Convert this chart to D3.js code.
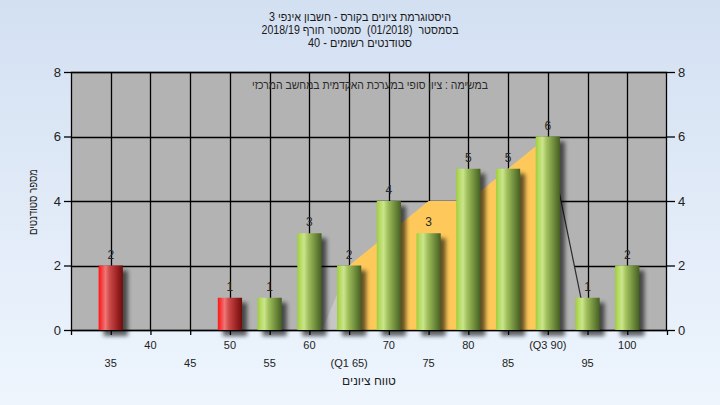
<!DOCTYPE html>
<html><head><meta charset="utf-8">
<script src="https://cdn.jsdelivr.net/npm/d3@7"></script>
<style>
html,body{margin:0;padding:0;}
body{width:720px;height:405px;overflow:hidden;}
text{font-family:"Liberation Sans",Arial,sans-serif;white-space:pre;}
</style></head>
<body><svg id="c" width="720" height="405"></svg>
<script>
// ---- data ----
const grades = [35, 40, 45, 50, 55, 60, 65, 70, 75, 80, 85, 90, 95, 100];
const counts = [2, 0, 0, 1, 1, 3, 2, 4, 3, 5, 5, 6, 1, 2];
const tickLabels = ["35","40","45","50","55","60","(Q1 65)","70","75","80","85","(Q3 90)","95","100"];
const yTicks = [0, 2, 4, 6, 8];
const passGrade = 55;
// shape behind bars (grade, count)
const areaGrades = [61.6, 65, 75, 80, 90, 95];
const areaCounts = [0, 2, 4, 4, 6, 0];
const q1 = 65, q3 = 90;
const titleLines = ["היסטוגרמת ציונים בקורס - חשבון אינפי 3",
                    "בסמסטר  (01/2018)  סמסטר חורף 2018/19",
                    "סטודנטים רשומים - 40"];
const subTitle = "במשימה : ציון סופי במערכת האקדמית במחשב המרכזי";
const xTitle = "טווח ציונים";
const yTitle = "מספר סטודנטים";

// ---- layout ----
const W = 720, H = 405;
const L = 71, R = 667, T = 72, B = 330;
const svg = d3.select("#c");
const defs = svg.append("defs");

const bg = defs.append("linearGradient").attr("id","bg").attr("x1",0).attr("y1",0).attr("x2",0).attr("y2",1);
bg.append("stop").attr("offset","0%").attr("stop-color","#d3e0f2");
bg.append("stop").attr("offset","100%").attr("stop-color","#eef5fd");

function barGrad(id, stops){
  const g = defs.append("linearGradient").attr("id",id).attr("x1",0).attr("y1",0).attr("x2",1).attr("y2",0);
  stops.forEach(s=>g.append("stop").attr("offset",s[0]).attr("stop-color",s[1]));
}
barGrad("gGreen", [["0%","#9fcd3e"],["12%","#b4da5e"],["28%","#cbe58e"],["45%","#a2c15c"],["75%","#6e8c3c"],["100%","#465f22"]]);
barGrad("gRed", [["0%","#ff1414"],["12%","#f53c3c"],["28%","#ef7777"],["45%","#cc4a4a"],["75%","#a02424"],["100%","#6e0c0c"]]);

const blur = defs.append("filter").attr("id","blur").attr("x","-50%").attr("y","-50%").attr("width","200%").attr("height","200%");
blur.append("feGaussianBlur").attr("stdDeviation",2);

svg.append("rect").attr("width",W).attr("height",H).attr("fill","url(#bg)");

const x = d3.scaleLinear().domain([30,105]).range([L,R]);
const y = d3.scaleLinear().domain([0,8]).range([B,T]);
const step = x(35) - x(30);
const bw = step * 0.61;

// plot background
svg.append("rect").attr("x",L).attr("y",T).attr("width",R-L).attr("height",B-T).attr("fill","#b3b3b3");

// grid
const grid = svg.append("g").attr("stroke","#000").attr("stroke-width",1.3);
yTicks.forEach(v=>grid.append("line").attr("x1",L).attr("x2",R).attr("y1",Math.round(y(v))+0.5).attr("y2",Math.round(y(v))+0.5));
grades.forEach(g=>grid.append("line").attr("y1",T).attr("y2",B).attr("x1",Math.round(x(g))+0.5).attr("x2",Math.round(x(g))+0.5));

// area shape
const pts = areaGrades.map((g,i)=>({g, c: areaCounts[i]}));
const leftPts = pts.filter(p=>p.g<=q1);
const midPts = pts.filter(p=>p.g>=q1 && p.g<=q3);
const rightPts = pts.filter(p=>p.g>=q3);
const area = d3.area().x(d=>x(d.g)).y0(y(0)).y1(d=>y(d.c));
svg.append("path").datum(leftPts).attr("d",area).attr("fill","#c6c6c6");
svg.append("path").datum(midPts).attr("d",area).attr("fill","#fec95a");
svg.append("path").datum(rightPts).attr("d",area).attr("fill","#b3b3b3");
svg.append("path").datum(rightPts).attr("d",d3.line().x(d=>x(d.g)).y(d=>y(d.c))).attr("fill","none").attr("stroke","#2a2a2a").attr("stroke-width",1.2);

// frame
svg.append("rect").attr("x",L+0.5).attr("y",T+0.5).attr("width",R-L-1).attr("height",B-T).attr("fill","none").attr("stroke","#000").attr("stroke-width",1.3);

// bars
const data = grades.map((g,i)=>({g, c: counts[i]})).filter(d=>d.c>0);
svg.append("g").selectAll("rect").data(data).join("rect")
  .attr("x",d=>x(d.g)-bw/2+5).attr("y",d=>y(d.c)+5)
  .attr("width",bw).attr("height",d=>y(0)-y(d.c)+1)
  .attr("fill","#000").attr("opacity",0.6).attr("filter","url(#blur)");
svg.append("g").selectAll("rect").data(data).join("rect")
  .attr("x",d=>x(d.g)-bw/2).attr("y",d=>y(d.c))
  .attr("width",bw).attr("height",d=>y(0)-y(d.c))
  .attr("fill",d=>d.g<passGrade?"url(#gRed)":"url(#gGreen)");
svg.append("g").selectAll("text").data(data).join("text")
  .attr("x",d=>x(d.g)).attr("y",d=>y(d.c)-7)
  .attr("text-anchor","middle").attr("font-size",12).attr("fill","#2a2a2a")
  .text(d=>d.c);

// axes
const yl = d3.axisLeft(y).tickValues(yTicks).tickSize(7).tickPadding(3);
const gl = svg.append("g").attr("transform",`translate(${L},0)`).call(yl);
const yr = d3.axisRight(y).tickValues(yTicks).tickSize(8).tickPadding(3);
const gr = svg.append("g").attr("transform",`translate(${R},0)`).call(yr);
[gl,gr].forEach(g=>{
  g.select(".domain").remove();
  g.selectAll("line").attr("stroke","#000").attr("stroke-width",1.3);
  g.selectAll("text").attr("font-size",13).attr("fill","#222").attr("font-family","Liberation Sans, Arial, sans-serif");
});
const xb = d3.axisBottom(x).tickValues(d3.range(30,106,5)).tickSize(5).tickFormat("");
const gb = svg.append("g").attr("transform",`translate(0,${B})`).call(xb);
gb.select(".domain").remove();
gb.selectAll("line").attr("stroke","#000").attr("stroke-width",1.3);

// staggered x labels
svg.append("g").selectAll("text").data(grades).join("text")
  .attr("x",d=>x(d)).attr("y",(d,i)=> i%2===1 ? 349 : 367)
  .attr("text-anchor","middle").attr("font-size",11).attr("fill","#222")
  .text((d,i)=>tickLabels[i]);

// titles
const titleWidths = [182, 197, 104];
svg.append("g").selectAll("text").data(titleLines).join("text")
  .attr("x",(d,i)=>360 - titleWidths[i]/2).attr("y",(d,i)=>21+i*13)
  .attr("direction","ltr").attr("font-size",12).attr("fill","#1a1a1a")
  .attr("textLength",(d,i)=>titleWidths[i]).attr("lengthAdjust","spacingAndGlyphs")
  .text(d=>d);
svg.append("text").attr("x",252).attr("y",89)
  .attr("font-size",12).attr("fill","#2a2a2a")
  .attr("textLength",236).attr("lengthAdjust","spacingAndGlyphs").text(subTitle);
svg.append("text").attr("x",(L+R)/2).attr("y",385).attr("text-anchor","middle").attr("direction","rtl")
  .attr("font-size",12).attr("fill","#222").text(xTitle);
svg.append("text").attr("transform",`translate(37,${(T+B)/2+1}) rotate(-90)`).attr("x",-33)
  .attr("font-size",12).attr("fill","#222")
  .attr("textLength",66).attr("lengthAdjust","spacingAndGlyphs").text(yTitle);
</script></body></html>
